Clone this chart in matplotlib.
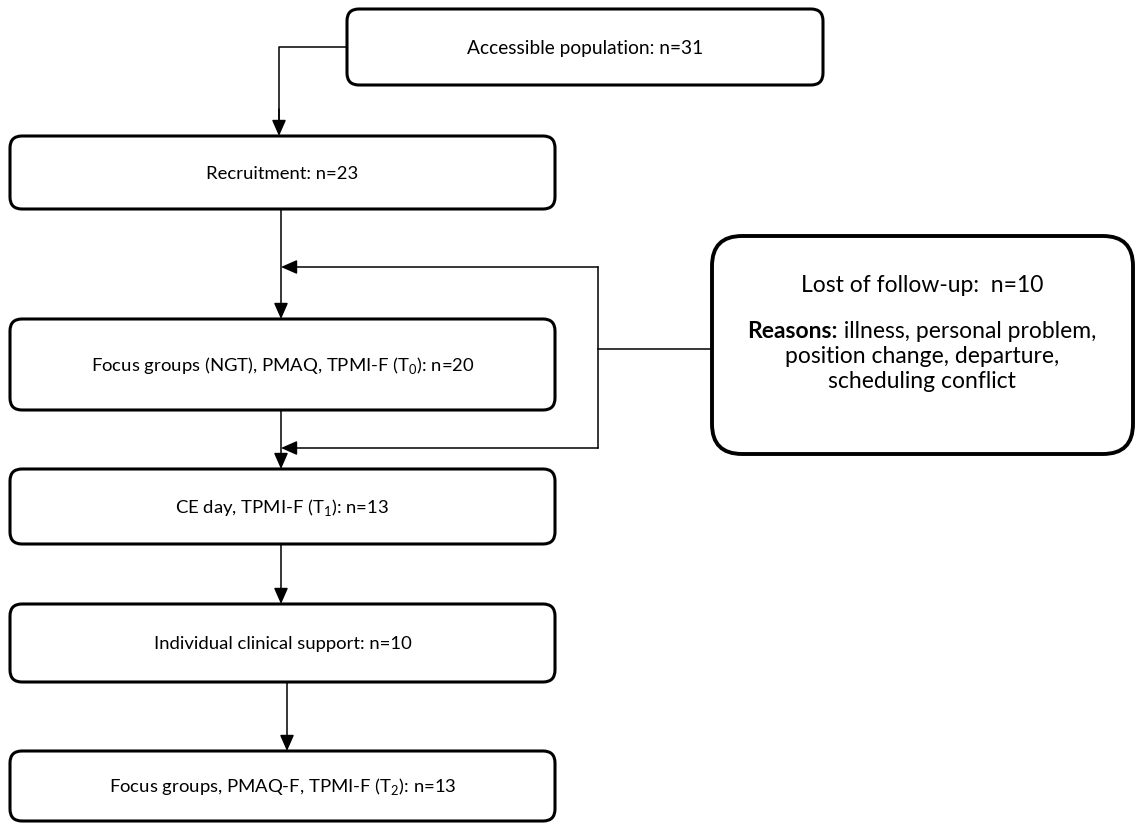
import matplotlib
matplotlib.use("Agg")
import matplotlib.pyplot as plt
from matplotlib.patches import FancyBboxPatch

plt.rcParams['font.family'] = ['Lato', 'DejaVu Sans']
plt.rcParams['mathtext.fontset'] = 'custom'
plt.rcParams['mathtext.rm'] = 'Lato'
plt.rcParams['mathtext.bf'] = 'Lato:bold'

# flow steps (label, n)
steps = [
    ("Recruitment", 23),
    ("Focus groups (NGT), PMAQ, TPMI-F (T$_\\mathregular{0}$)", 20),
    ("CE day, TPMI-F (T$_\\mathregular{1}$)", 13),
    ("Individual clinical support", 10),
    ("Focus groups, PMAQ-F, TPMI-F (T$_\\mathregular{2}$)", 13),
]
top_label = "Accessible population"
top_n = 31
lost_n = 10
reasons = ["illness, personal problem,", "position change, departure,", "scheduling conflict"]

# box geometry in pixels (top, bottom)
step_y = [(137, 210), (320, 411), (470, 545), (605, 683), (752, 822)]
arrow_x = [281, 281, 281, 287]
box_x0, box_x1 = 10, 555

fig = plt.figure(figsize=(11.4, 8.29), dpi=100)
ax = fig.add_axes([0, 0, 1, 1])
ax.set_xlim(0, 1140)
ax.set_ylim(829, 0)
ax.axis('off')

FS_TOP = 13.8
FS = 13.3
FS_R = 16.5


def box(x0, y0, x1, y1, lw=2.2, r=12):
    p = FancyBboxPatch((x0 + r, y0 + r), (x1 - x0) - 2 * r, (y1 - y0) - 2 * r,
                       boxstyle="round,pad=%d,rounding_size=%d" % (r, r),
                       fc='white', ec='black', lw=lw, zorder=3)
    ax.add_patch(p)


def arrow(x0, y0, x1, y1):
    ax.annotate("", xy=(x1, y1), xytext=(x0, y0),
                arrowprops=dict(arrowstyle='-|>,head_length=0.75,head_width=0.33',
                                color='black', lw=1.1, shrinkA=0, shrinkB=0,
                                mutation_scale=13), zorder=2)


# top box
box(347, 10, 823, 86)
ax.text(585, 48, "%s: n=%d" % (top_label, top_n), ha='center', va='center', fontsize=FS_TOP, zorder=4)
ax.plot([347, 279, 279], [48, 48, 120], color='black', lw=1.1)
arrow(279, 110, 279, step_y[0][0])

for (label, n), (y0, y1) in zip(steps, step_y):
    box(box_x0, y0, box_x1, y1)
    ax.text((box_x0 + box_x1) / 2, (y0 + y1) / 2, "%s: n=%d" % (label, n),
            ha='center', va='center', fontsize=FS, zorder=4)

for i in range(len(steps) - 1):
    arrow(arrow_x[i], step_y[i][1], arrow_x[i], step_y[i + 1][0])

# loss box on the right
box(712, 237, 1133, 455, lw=2.8, r=30)
ax.text(922, 285, "Lost of follow-up:  n=%d" % lost_n, ha='center', va='center', fontsize=FS_R, zorder=4)

fig.canvas.draw()
rend = fig.canvas.get_renderer()
t_b = ax.text(0, 331, "Reasons:", fontsize=FS_R, fontweight='bold', va='center', zorder=4)
t_n = ax.text(0, 331, " " + reasons[0], fontsize=FS_R, va='center', zorder=4)
wb = t_b.get_window_extent(rend).width
wn = t_n.get_window_extent(rend).width
x_start = 922 - (wb + wn) / 2
t_b.set_x(x_start)
t_n.set_x(x_start + wb)
for k, line in enumerate(reasons[1:]):
    ax.text(922, 356 + 25 * k, line, ha='center', va='center', fontsize=FS_R, zorder=4)

# loop connector
ax.plot([712, 598], [350, 350], color='black', lw=1.1)
ax.plot([598, 598], [268, 449], color='black', lw=1.1)
arrow(598, 268, 281, 268)
arrow(598, 449, 281, 449)

fig.savefig("out.png", dpi=100)
